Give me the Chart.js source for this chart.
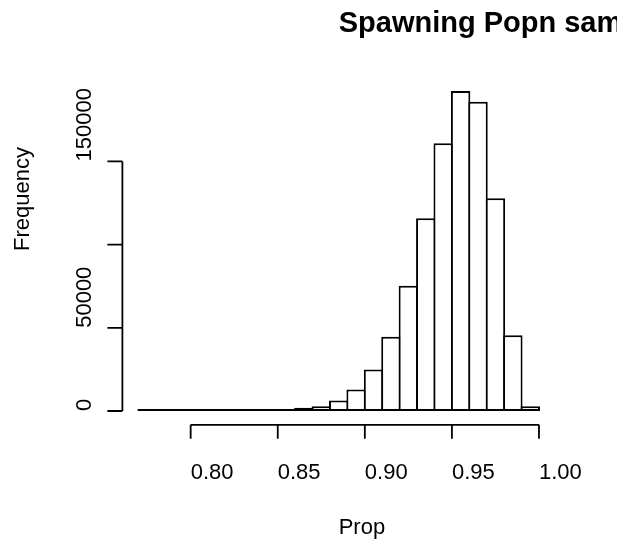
<!DOCTYPE html>
<html>
<head>
<meta charset="utf-8">
<script src="https://cdn.jsdelivr.net/npm/chart.js@4/dist/chart.umd.min.js"></script>
<style>
  html, body { margin: 0; padding: 0; background: #fff; }
  #wrap { width: 631px; height: 546px; }
</style>
</head>
<body>
<div id="wrap"><canvas id="hist" width="631" height="546"></canvas></div>
<script>
// Histogram bins (width 0.01) and their counts
const binStarts = [0.77, 0.78, 0.79, 0.80, 0.81, 0.82, 0.83, 0.84, 0.85, 0.86, 0.87, 0.88,
                   0.89, 0.90, 0.91, 0.92, 0.93, 0.94, 0.95, 0.96, 0.97, 0.98, 0.99];
const binWidth = 0.01;
const counts = [20, 30, 50, 80, 120, 200, 300, 700, 900, 1900, 2900, 6300,
                12900, 24900, 44700, 75300, 115900, 160900, 192300, 185900, 127900, 45500, 2900];

// Axis ticks and their labels ('' = tick without label)
const xTicks = [0.80, 0.85, 0.90, 0.95, 1.00];
const xTickLabels = ['0.80', '0.85', '0.90', '0.95', '1.00'];
const yTicks = [0, 50000, 100000, 150000];
const yTickLabels = ['0', '50000', '', '150000'];

const titleText = 'Spawning Popn sample';
const xLabel = 'Prop';
const yLabel = 'Frequency';

const FONT = '"Liberation Sans", Arial, Helvetica, sans-serif';

// Plot window with 4% padding on each side
const xLo = binStarts[0], xHi = binStarts[binStarts.length - 1] + binWidth;
const xPad = (xHi - xLo) * 0.04;
const yMaxCount = Math.max(...counts);
const yPad = yMaxCount * 0.04;

const points = binStarts.map((s, i) => ({ x: s + binWidth / 2, y: counts[i] }));

// Axes, tick labels and titles drawn in the classic detached style
const classicAxes = {
  id: 'classicAxes',
  afterDraw(chart) {
    const { ctx, chartArea: a, scales: { x, y } } = chart;
    const tick = 14;
    ctx.save();
    ctx.strokeStyle = '#000';
    ctx.fillStyle = '#000';
    ctx.lineWidth = 1.8;
    ctx.lineCap = 'butt';

    // x axis
    const xa = a.bottom + 1;
    ctx.beginPath();
    ctx.moveTo(x.getPixelForValue(xTicks[0]), xa);
    ctx.lineTo(x.getPixelForValue(xTicks[xTicks.length - 1]), xa);
    xTicks.forEach(v => {
      const px = x.getPixelForValue(v);
      ctx.moveTo(px, xa);
      ctx.lineTo(px, xa + tick);
    });
    ctx.stroke();
    ctx.font = '22px ' + FONT;
    ctx.textAlign = 'left';
    ctx.textBaseline = 'alphabetic';
    xTicks.forEach((v, i) => {
      ctx.fillText(xTickLabels[i], x.getPixelForValue(v), xa + 54);
    });

    // y axis
    const ya = a.left;
    ctx.beginPath();
    ctx.moveTo(ya, y.getPixelForValue(yTicks[0]));
    ctx.lineTo(ya, y.getPixelForValue(yTicks[yTicks.length - 1]));
    yTicks.forEach(v => {
      const py = y.getPixelForValue(v);
      ctx.moveTo(ya, py);
      ctx.lineTo(ya - tick - 1, py);
    });
    ctx.stroke();
    yTicks.forEach((v, i) => {
      if (!yTickLabels[i]) return;
      ctx.save();
      ctx.translate(ya - 31, y.getPixelForValue(v));
      ctx.rotate(-Math.PI / 2);
      ctx.fillText(yTickLabels[i], 0, 0);
      ctx.restore();
    });

    // axis titles, anchored at the middle of the plotting region
    const midX = (a.left + a.right) / 2;
    const midY = (a.top + a.bottom) / 2;
    ctx.fillText(xLabel, midX, 534);
    ctx.save();
    ctx.translate(29, midY);
    ctx.rotate(-Math.PI / 2);
    ctx.fillText(yLabel, 0, 0);
    ctx.restore();

    // main title, clipped to the figure region
    ctx.save();
    ctx.beginPath();
    ctx.rect(0, 0, 617, chart.height);
    ctx.clip();
    ctx.font = 'bold 29px ' + FONT;
    ctx.fillText(titleText, midX, 32);
    ctx.restore();

    ctx.restore();
  }
};

new Chart(document.getElementById('hist'), {
  type: 'bar',
  data: {
    datasets: [{
      data: points,
      backgroundColor: '#ffffff',
      borderColor: '#000000',
      borderWidth: 2,
      borderSkipped: false,
      minBarLength: 2,
      // bins overlap by one border width so shared edges draw as a single line
      barPercentage: 1.115,
      categoryPercentage: 1.0
    }]
  },
  options: {
    responsive: false,
    animation: false,
    devicePixelRatio: 1,
    layout: { padding: { left: 122.4, right: 76, top: 78.3, bottom: 122.2 } },
    plugins: { legend: { display: false }, tooltip: { enabled: false }, title: { display: false } },
    scales: {
      x: { type: 'linear', min: xLo - xPad, max: xHi + xPad, display: false, offset: false },
      y: { type: 'linear', min: -yPad, max: yMaxCount + yPad, display: false }
    }
  },
  plugins: [classicAxes]
});
</script>
</body>
</html>
